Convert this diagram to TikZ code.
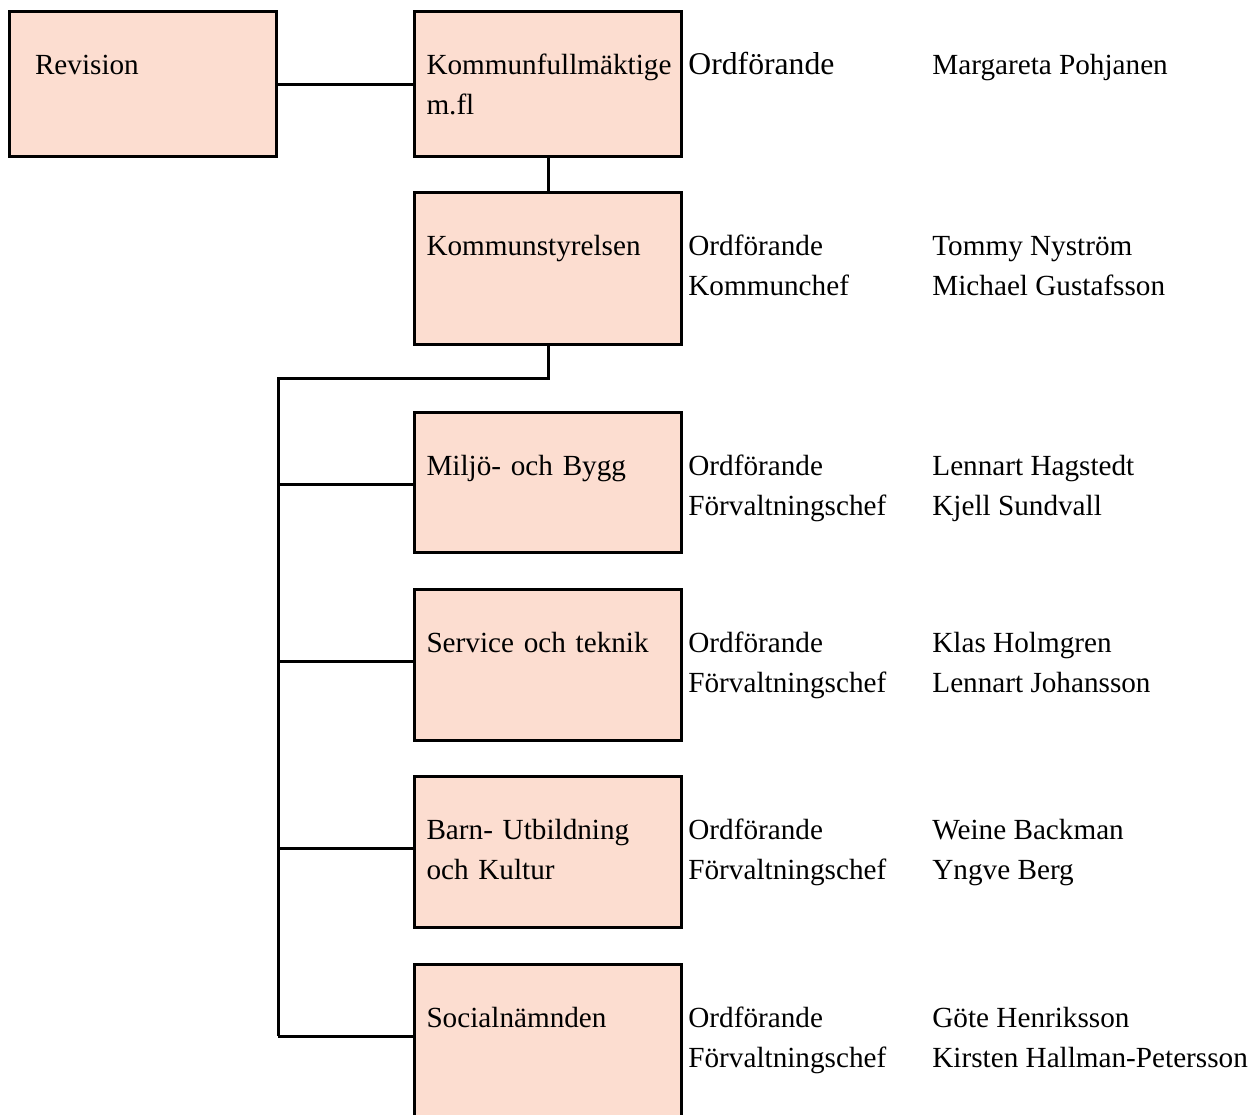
\documentclass[tikz,border=0pt]{standalone}
\usepackage{fontspec}
\setmainfont{Liberation Serif}
\definecolor{orgfill}{RGB}{252,221,208}

\tikzset{
  unit/.style={draw, fill=orgfill, line width=1.5pt, anchor=north west, align=left,
    inner ysep=0pt, inner xsep=6pt, text width=121.5pt, text height=31.5pt, text depth=#1},
  role/.style={anchor=base west, inner sep=0pt},
  link/.style={line width=1.5pt}
}

\begin{document}
\begin{tikzpicture}[x=0.5pt, y=-0.5pt, font=\fontsize{14.6pt}{20pt}\selectfont]
  \clip (0,0) rectangle (1258,1114);
  % boxes
  \node[unit=41pt, inner xsep=12.75pt, text width=108pt] (rev) at (8,10) {Revision};
  \node[unit=41pt] (kf) at (413,10) {Kommunfullmäktige\\m.fl};
  \node[unit=44.25pt] (ks) at (413,191) {Kommunstyrelsen};
  \node[unit=38.5pt] (mb) at (413,411) {Miljö- och Bygg};
  \node[unit=44pt] (st) at (413,588) {Service och teknik};
  \node[unit=44pt] (buk) at (413,775) {Barn- Utbildning\\och Kultur};
  \node[unit=90pt] (sn) at (413,963) {Socialnämnden};

  % roles and names
  \node[role, font=\fontsize{15.85pt}{20pt}\selectfont] (kf-r1) at ([xshift=2.5pt]kf.base east) {Ordförande};
  \node[role] (kf-n1) at ([xshift=124.5pt]kf.base east) {Margareta Pohjanen};
  \foreach \b/\c/\n/\m in {ks/Kommunchef/Tommy Nyström/Michael Gustafsson,
      mb/Förvaltningschef/Lennart Hagstedt/Kjell Sundvall,
      st/Förvaltningschef/Klas Holmgren/Lennart Johansson,
      buk/Förvaltningschef/Weine Backman/Yngve Berg,
      sn/Förvaltningschef/Göte Henriksson/Kirsten Hallman-Petersson}
  {
    \node[role] (\b-r1) at ([xshift=2.5pt]\b.base east) {Ordförande};
    \node[role] (\b-r2) at ([yshift=-20pt]\b-r1.base west) {\c};
    \node[role] (\b-n1) at ([xshift=124.5pt]\b.base east) {\n};
    \node[role] (\b-n2) at ([yshift=-20pt]\b-n1.base west) {\m};
  }

  % connectors
  \coordinate (bus) at (278,378);
  \foreach \b in {mb,st,buk,sn}
    \coordinate (\b-in) at ([yshift=-36.5pt]\b.north west);
  \path[link]
    (rev) edge (kf)
    (kf) edge (ks);
  \draw[link] (ks.south) |- (bus) -- (bus |- sn-in);
  \foreach \b in {mb,st,buk,sn}
    \draw[link] (bus |- \b-in) -- (\b-in);
\end{tikzpicture}
\end{document}
